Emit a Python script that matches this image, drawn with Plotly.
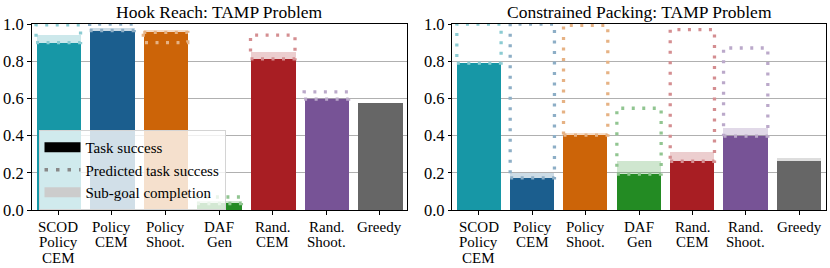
import plotly.graph_objects as go

# ---------------- data ----------------
methods = ["SCOD Policy CEM", "Policy CEM", "Policy Shoot.", "DAF Gen",
           "Rand. CEM", "Rand. Shoot.", "Greedy"]
label_lines = [["SCOD", "Policy", "CEM"], ["Policy", "CEM"], ["Policy", "Shoot."],
               ["DAF", "Gen"], ["Rand.", "CEM"], ["Rand.", "Shoot."], ["Greedy"]]
colors = ["#1797a6", "#1b5e8e", "#cc6408", "#238b23", "#a81e23", "#775396", "#666666"]

panel_titles = ["Hook Reach: TAMP Problem", "Constrained Packing: TAMP Problem"]

hook_task = [0.90, 0.965, 0.955, 0.035, 0.813, 0.596, 0.575]
hook_subgoal = [0.94, 0.978, 0.968, 0.05, 0.848, 0.60, 0.575]
hook_pred = [0.995, 1.0, 0.90, 0.07, 0.94, 0.635, None]

pack_task = [0.79, 0.173, 0.403, 0.193, 0.262, 0.397, 0.265]
pack_subgoal = [0.79, 0.20, 0.415, 0.261, 0.31, 0.44, 0.277]
pack_pred = [1.0, 1.0, 0.993, 0.547, 0.97, 0.871, None]

yticks = [0.0, 0.2, 0.4, 0.6, 0.8, 1.0]
legend_names = ["Task success", "Predicted task success", "Sub-goal completion"]

# ---------------- styling ----------------
W, H = 830, 268
FONT = "Liberation Serif, Times New Roman, serif"
BAR_W = 0.83


def hex_rgb(h):
    h = h.lstrip("#")
    return tuple(int(h[i:i + 2], 16) for i in (0, 2, 4))


def blend(h, a):
    r, g, b = hex_rgb(h)
    return "rgb(%d,%d,%d)" % (round(r * a + 255 * (1 - a)),
                              round(g * a + 255 * (1 - a)),
                              round(b * a + 255 * (1 - a)))


def rgba(h, a):
    r, g, b = hex_rgb(h)
    return "rgba(%d,%d,%d,%.2f)" % (r, g, b, a)


fig = go.Figure()
xs = list(range(len(methods)))
panels = [(hook_task, hook_subgoal, hook_pred), (pack_task, pack_subgoal, pack_pred)]
axis_ids = [("x", "y"), ("x2", "y2")]

for (task, sub, pred), (xa, ya) in zip(panels, axis_ids):
    fig.add_trace(go.Bar(x=xs, y=sub, width=BAR_W,
                         marker=dict(color=[rgba(c, 0.22) for c in colors], line=dict(width=0)),
                         showlegend=False, xaxis=xa, yaxis=ya, hoverinfo="skip"))
    fig.add_trace(go.Bar(x=xs, y=task, width=BAR_W,
                         marker=dict(color=colors, line=dict(width=0)),
                         showlegend=False, xaxis=xa, yaxis=ya))
    for i, (t, p) in enumerate(zip(task, pred)):
        if p is None:
            continue
        x0, x1 = i - BAR_W / 2, i + BAR_W / 2
        fig.add_trace(go.Scatter(x=[x0, x1, x1, x0, x0], y=[t, t, p, p, t],
                                 mode="lines",
                                 line=dict(color=blend(colors[i], 0.5), width=3.3, dash="3px,7.5px"),
                                 showlegend=False, xaxis=xa, yaxis=ya, hoverinfo="skip"))

# legend proxies
fig.add_trace(go.Scatter(x=[None], y=[None], mode="lines", name=legend_names[0],
                         line=dict(color="black", width=10), xaxis="x", yaxis="y"))
fig.add_trace(go.Scatter(x=[None], y=[None], mode="lines", name=legend_names[1],
                         line=dict(color="#888888", width=3.3, dash="3.5px,8px"), xaxis="x", yaxis="y"))
fig.add_trace(go.Scatter(x=[None], y=[None], mode="lines", name=legend_names[2],
                         line=dict(color="#cccccc", width=10), xaxis="x", yaxis="y"))

doms = [[31.5 / W, 406.8 / W], [452.3 / W, 825.7 / W]]

axis_common = dict(showline=True, mirror=True, linecolor="black", linewidth=1,
                   ticks="outside", ticklen=3.5, tickwidth=1, tickcolor="black",
                   zeroline=False, tickfont=dict(family=FONT, size=16.5, color="black"))

layout = dict(
    width=W, height=H,
    margin=dict(l=0, r=0, t=24, b=58, pad=0),
    paper_bgcolor="white", plot_bgcolor="white",
    barmode="overlay", bargap=0,
    font=dict(family=FONT, size=15, color="black"),
    legend=dict(x=38.5 / W, y=(210 - 130) / 186, xanchor="left", yanchor="top",
                bgcolor="rgba(255,255,255,0.8)", bordercolor="#d4d4d4", borderwidth=1,
                font=dict(family=FONT, size=15, color="black"), itemwidth=36,
                tracegroupgap=0),
)
for k, (xa, ya) in enumerate(axis_ids):
    xname = "xaxis" if k == 0 else "xaxis2"
    yname = "yaxis" if k == 0 else "yaxis2"
    layout[xname] = dict(domain=doms[k], range=[-0.5, 6.5], tickvals=xs,
                         showticklabels=False, showgrid=False,
                         anchor=ya, **axis_common)
    layout[yname] = dict(domain=[0, 1], range=[0, 1], tickvals=yticks,
                         ticktext=["%.1f" % v for v in yticks],
                         showgrid=True, gridcolor="#b0b0b0", gridwidth=1,
                         anchor=xa, **axis_common)
fig.update_layout(**layout)

annotations = []
for k, (xa, ya) in enumerate(axis_ids):
    annotations.append(dict(text=panel_titles[k], xref="paper", yref="paper",
                            x=(doms[k][0] + doms[k][1]) / 2, y=1, xanchor="center",
                            yanchor="middle", yshift=12, showarrow=False,
                            font=dict(family=FONT, size=17.5, color="black")))
    for i, lines in enumerate(label_lines):
        for j, line in enumerate(lines):
            annotations.append(dict(text=line, xref=xa, yref="paper", x=i, y=0,
                                    xanchor="center", yanchor="middle",
                                    yshift=-(17 + 15.3 * j), showarrow=False,
                                    font=dict(family=FONT, size=15, color="black")))
fig.update_layout(annotations=annotations)

fig.write_html("out.html", config={"displayModeBar": False},
               post_script="document.body.style.margin='0';document.body.style.overflow='hidden';")
